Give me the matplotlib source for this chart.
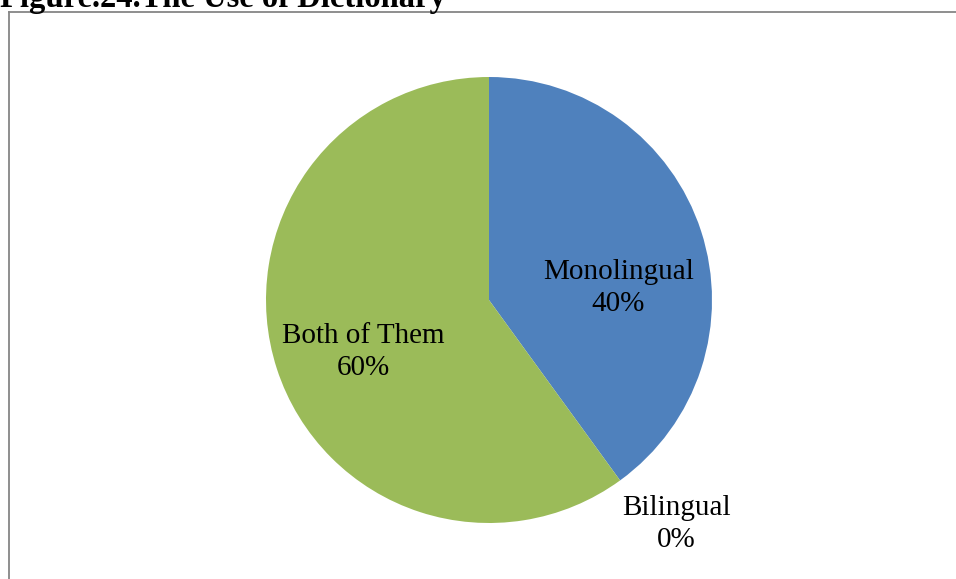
import matplotlib
matplotlib.use("Agg")
import matplotlib.pyplot as plt
from matplotlib.lines import Line2D

# Dictionary usage shares
categories = ["Monolingual", "Bilingual", "Both of Them"]
shares = [40, 0, 60]
colors = ["#4F81BD", "#C0504D", "#9BBB59"]
title = "Figure.24.The Use of Dictionary"

# label anchor points in units of pie radius
label_xy = [(0.58, 0.052), (0.84, -1.005), (-0.565, -0.235)]

W, H = 956, 579
fig = plt.figure(figsize=(W / 100, H / 100), dpi=100)
fig.patch.set_facecolor("white")

cx, cy, R = 489, 300, 223
ax = fig.add_axes([(cx - R) / W, (H - cy - R) / H, 2 * R / W, 2 * R / H])
ax.pie(shares, colors=colors, startangle=90, counterclock=False, radius=1,
       wedgeprops=dict(linewidth=0))
ax.set_xlim(-1, 1)
ax.set_ylim(-1, 1)
ax.set_aspect("equal")
ax.axis("off")

serif = ["Liberation Serif", "DejaVu Serif"]
for name, val, (x, y) in zip(categories, shares, label_xy):
    ax.text(x, y, f"{name}\n{val}%", ha="center", va="center",
            fontsize=21, family=serif, linespacing=1.3, clip_on=False)

# chart frame (grey, runs off the right and bottom edges)
bx, by = 8.5, 11.5
fig.add_artist(Line2D([bx / W, bx / W], [0, 1 - by / H], transform=fig.transFigure,
                      color="#868686", linewidth=1.3))
fig.add_artist(Line2D([bx / W, 1], [1 - by / H, 1 - by / H], transform=fig.transFigure,
                      color="#868686", linewidth=1.3))

fig.text(0 / W, 1 - 7 / H, title, ha="left", va="baseline", fontsize=23.5,
         fontweight="bold", family=serif)

fig.savefig("out.png", dpi=100)
